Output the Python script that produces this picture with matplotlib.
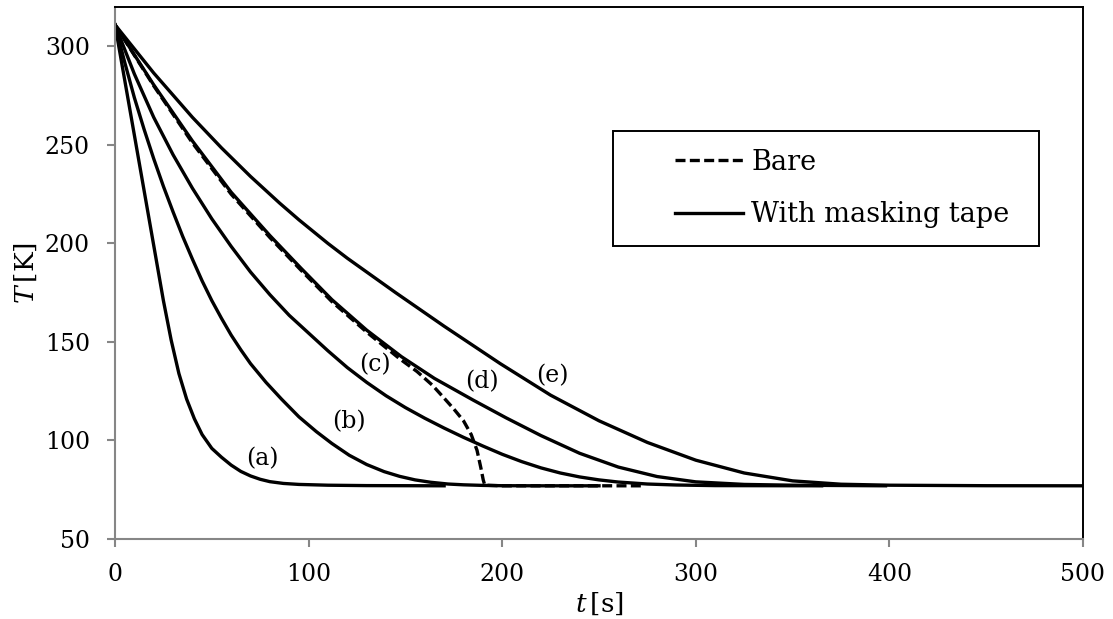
import numpy as np
import matplotlib.pyplot as plt
from matplotlib.patches import Rectangle

# Data (time in s, temperature in K)
t_a = [0, 5, 10, 15, 20, 25, 29, 33, 37, 41, 45, 50, 55, 60, 65, 70, 75, 80, 87, 95, 110, 130, 170]
T_a = [311, 283, 255, 227, 199, 171, 151, 134, 121, 111, 103, 96, 91.5, 87.5, 84.3, 82, 80.3, 79.1, 78.2, 77.7, 77.3, 77.1, 77.0]

t_b = [0, 5, 10, 15, 20, 25, 30, 35, 40, 45, 50, 55, 60, 65, 70, 78, 86, 95, 104, 112, 121, 130, 139, 147, 155, 163, 172, 180, 190, 200, 220, 250]
T_b = [311, 292, 274, 258, 243, 229, 216, 203.5, 192, 181, 171, 162, 153.5, 146, 139, 129.5, 121, 112, 104.5, 98.5, 92.5, 87.8, 84.2, 81.8, 80, 78.8, 77.9, 77.5, 77.2, 77.05, 77.0, 77.0]

t_c = [0, 10, 20, 30, 40, 50, 60, 70, 80, 90, 100, 110, 120, 130, 140, 150, 160, 170, 180, 190, 200, 210, 220, 230, 240, 250, 260, 275, 290, 310, 365]
T_c = [311, 286, 264, 245, 228, 212.5, 198.5, 185.5, 174, 163.5, 154.5, 145.5, 137, 129.5, 122.7, 116.7, 111.3, 106.3, 101.6, 97.2, 93, 89.3, 86.1, 83.5, 81.5, 80, 78.9, 77.9, 77.4, 77.1, 77.0]

t_d = [0, 20, 40, 60, 80, 96, 112, 130, 148, 165, 185, 202, 220, 240, 260, 280, 300, 325, 350, 398]
T_d = [311, 280.5, 252, 226, 204, 187.5, 171.5, 156, 142.5, 131.5, 120.5, 111.5, 102.5, 93.5, 86.5, 81.7, 79, 77.7, 77.3, 77.0]

t_e = [0, 20, 40, 55, 70, 85, 95, 110, 120, 145, 170, 199, 225, 250, 275, 300, 325, 350, 375, 400, 450, 500]
T_e = [311, 286.5, 264, 248.5, 234, 220.5, 212, 200, 192.5, 175, 158, 139, 123, 110, 99, 90, 83.5, 79.5, 77.8, 77.3, 77.05, 77.0]

t_bare = [0, 20, 40, 60, 80, 96, 112, 130, 147, 156, 164, 170, 175, 180, 184, 187, 189, 190.2, 191, 200, 272]
T_bare = [311, 280, 251, 225, 203, 186.5, 170.5, 155, 141.5, 135, 128, 121.5, 116, 110, 103, 95, 86, 80, 77.3, 77.0, 77.0]

curve_labels = ['(a)', '(b)', '(c)', '(d)', '(e)']
label_t = [76.3, 120.9, 134.3, 189.4, 225.9]
label_T = [90.5, 109.5, 138.3, 129.8, 132.7]

plt.rcParams['font.family'] = 'DejaVu Serif'
plt.rcParams['mathtext.fontset'] = 'dejavuserif'

fig = plt.figure(figsize=(11.13, 6.19), dpi=100)
ax = fig.add_axes([115 / 1113, 80 / 619, 968 / 1113, 532 / 619])

lw = 2.4
for t, T in [(t_a, T_a), (t_b, T_b), (t_c, T_c), (t_d, T_d), (t_e, T_e)]:
    ax.plot(t, T, color='black', lw=lw, solid_joinstyle='round')
ax.plot(t_bare, T_bare, color='black', lw=lw, dashes=(3, 1.3))

for lab, x, y in zip(curve_labels, label_t, label_T):
    ax.text(x, y, lab, fontsize=17, ha='center', va='center')

ax.set_xlim(0, 500)
ax.set_ylim(50, 320)
ax.set_xticks(np.arange(0, 501, 100))
ax.set_yticks(np.arange(50, 301, 50))
ax.tick_params(direction='out', length=6, width=1.5, color='#868686',
               labelsize=17, pad=11)
ax.tick_params(axis='y', pad=12)

for side in ['left', 'bottom']:
    ax.spines[side].set_color('#868686')
    ax.spines[side].set_linewidth(1.5)
for side in ['top', 'right']:
    ax.spines[side].set_color('black')
    ax.spines[side].set_linewidth(1.4)

ax.set_xlabel(r'$t\,$[s]', fontsize=19)
ax.set_ylabel(r'$T\,$[K]', fontsize=19)
ax.xaxis.set_label_coords(0.5, -0.096)
ax.yaxis.set_label_coords(-0.078, 0.5)

# legend without frame, plus a plain rectangle as its box
h_bare, = ax.plot([], [], color='black', lw=lw, dashes=(3, 1.3))
h_tape, = ax.plot([], [], color='black', lw=lw)
ax.legend([h_bare, h_tape], ['Bare', 'With masking tape'], frameon=False,
          fontsize=19.5, loc='center left', bbox_to_anchor=(0.5648, 0.6588),
          borderpad=0, handlelength=2.5, handletextpad=0.3, labelspacing=0.95)
ax.add_patch(Rectangle((0.5145, 0.5508), 0.44, 0.2162, transform=ax.transAxes,
                       fill=False, edgecolor='black', lw=1.4, zorder=5))

fig.savefig('out.png', dpi=100)
